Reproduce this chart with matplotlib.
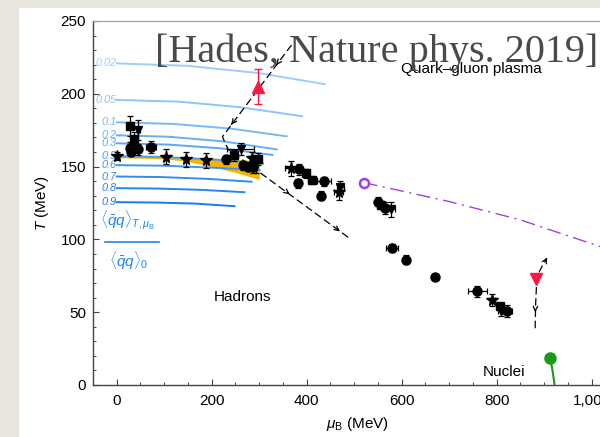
import matplotlib.pyplot as plt
from matplotlib.patches import Rectangle
from matplotlib.ticker import MultipleLocator, FuncFormatter

plt.rcParams['font.family'] = ['Liberation Sans', 'DejaVu Sans']
plt.rcParams['mathtext.fontset'] = 'custom'
plt.rcParams['mathtext.rm'] = 'Liberation Sans'
plt.rcParams['mathtext.it'] = 'Liberation Sans:italic'

# condensate ratio contours: label, mu_B samples, T samples
cond_labels = ['0.02', '0.05', '0.1', '0.2', '0.3', '0.5', '0.6', '0.7', '0.8', '0.9']
cond_mu = [[0, 150, 300, 438], [0, 130, 260, 390], [0, 120, 240, 358], [0, 110, 225, 337],
           [0, 110, 220, 328], [0, 100, 205, 308], [0, 100, 200, 301], [0, 95, 190, 284],
           [0, 90, 180, 269], [0, 85, 165, 248]]
cond_T = [[220.9, 219.2, 214.2, 206.6], [195.8, 194.6, 190.8, 184.6], [180.4, 179.3, 176.1, 170.8],
          [171.5, 170.5, 167.3, 161.8], [166, 165.1, 162.5, 158], [157.2, 156.6, 154.8, 152],
          [151, 150.6, 149.3, 147.6], [143.2, 142.8, 141.6, 139.6], [135.2, 134.9, 134, 132.4],
          [125.6, 125.3, 124.6, 122.8]]
cond_colors = ['#9fcdfa', '#8fc4f8', '#7ab8f6', '#6aaff5', '#5ca7f3', '#4a9df2',
               '#3d95f0', '#2f8cee', '#2384ec', '#1a7ce9']

# crossover band
band_mu = [0, 100, 150, 200, 250, 300]
band_hi = [157.7, 157.2, 156.7, 156.0, 155.0, 153.8]
band_lo = [156.1, 155.4, 153.5, 150.0, 146.0, 141.2]

# freeze-out points
pts_mu = [1.5, 27, 27, 36, 36, 45, 45, 31, 72, 103, 145, 187, 229, 246, 261, 266, 276, 285, 293, 297, 286,
          366, 384, 382, 399, 412, 436, 430, 471, 467, 550, 557, 564, 578,
          580, 610, 669.5, 759, 791, 806, 810, 822]
pts_T = [157.2, 178, 163, 168.7, 165, 175, 161.8, 160, 163.5, 156.8, 155, 154.3, 155, 157.7, 162.3, 150.8,
         150, 156, 151.5, 155, 149.4,
         148.8, 148.1, 138.5, 145.3, 140.8, 140, 130, 136.2, 132.3, 125.9, 123.6, 121.4, 120.7,
         94.1, 86.1, 74.2, 64.3, 58.5, 54.4, 50.5, 51]
pts_xerr = [3, 3, 4, 3, 3, 3, 3, 3, 10, 3, 3, 3, 5, 5, 29, 4, 4, 4, 4, 3, 4,
            12, 6, 3, 6, 10, 15, 3, 8, 10, 4, 6, 8, 8,
            13, 3, 6, 20, 5, 5, 8, 10]
pts_yerr = [3, 7, 4, 5, 4, 7, 4, 3, 4, 5, 5, 5, 3, 4, 4, 3, 3, 4, 6, 4, 4,
            5, 4, 3, 3, 3, 3, 3, 4, 5, 3, 3, 4, 5,
            3, 3, 2, 4, 4, 2, 3, 4]
pts_marker = ['*', 's', 'o', 's', 'o', 'v', 'o', 'o', 'o', '*', '*', '*', 'o', 's', 'v', 'o', 'o', '*', 'v', 's', 'o',
              '*', 'o', 'o', 's', 's', 'o', 'o', 'v', '*', 'o', 's', 'o', 'v',
              'o', 'o', 'o', 'o', '*', 's', 'v', 'o']

# trajectories and special points
traj_mu = [368, 222.5, 234, 490]
traj_T = [233.5, 170.5, 162, 100.8]
loop_mu = [881, 882, 884, 890, 898, 906]
loop_T = [39, 55, 70, 78, 83, 87]
cep_mu = [520, 700, 848, 1017, 1060]
cep_T = [139, 126, 113.6, 95.2, 90]

fig = plt.figure(figsize=(6, 4.37), dpi=100, facecolor='#e8e4de')
fig.patches.append(Rectangle((19 / 600, 0), 1, 1 - 8 / 437, transform=fig.transFigure,
                             facecolor='white', edgecolor='none', zorder=-10))
ax = fig.add_axes([93 / 600, 52 / 437, 530 / 600, 364 / 437])
ax.set_facecolor('white')
ax.set_xlim(-50, 1066)
ax.set_ylim(0, 250)

for lab, mu, T, c in zip(cond_labels, cond_mu, cond_T, cond_colors):
    ax.plot(mu, T, color=c, lw=1.4, zorder=2)
    ax.text(-1, T[0], lab, color=c, fontsize=7.8, style='italic', ha='right', va='center')

ax.fill_between(band_mu, band_lo, band_hi, color='#f6b400', lw=0, zorder=1)

ax.text(22, 105, r'$\langle\bar{q}q\rangle_{T,\mu_{\rm B}}$', color='#1f86ee', fontsize=11, ha='center', va='bottom')
ax.plot([-25, 90], [98.5, 98.5], color='#1f86ee', lw=1.2)
ax.text(24, 93, r'$\langle\bar{q}q\rangle_0$', color='#1f86ee', fontsize=11, ha='center', va='top')

sizes = {'o': 6.5, '*': 8.5, 's': 5.5, 'v': 6}
for m in ['o', '*', 's', 'v']:
    idx = [i for i, mk in enumerate(pts_marker) if mk == m]
    ax.errorbar([pts_mu[i] for i in idx], [pts_T[i] for i in idx],
                xerr=[pts_xerr[i] for i in idx], yerr=[pts_yerr[i] for i in idx],
                fmt=m, ms=sizes[m], color='black', ecolor='black', elinewidth=0.9,
                capsize=2, capthick=0.9, zorder=5)

ax.plot(traj_mu, traj_T, color='black', lw=0.9, ls=(0, (6, 3)), zorder=4)
ax.plot(loop_mu, loop_T, color='black', lw=0.9, ls=(0, (6, 3)), zorder=4)
for (x0, y0), (x1, y1) in [((340, 221.5), (336, 219.8)), ((245, 180.5), (241, 178.8)),
                           ((360, 132), (364, 131)), ((466, 106.5), (470, 105.5)),
                           ((881.5, 53), (881.3, 50)), ((902, 85), (906, 87.5))]:
    ax.annotate('', xy=(x1, y1), xytext=(x0, y0),
                arrowprops=dict(arrowstyle='->', color='black', lw=0.9, mutation_scale=8))

ax.errorbar([297.5], [205], yerr=[12], fmt='^', ms=8, color='#ff1744', ecolor='#ff1744',
            elinewidth=1, capsize=3, zorder=6)
ax.plot([883], [73], 'v', ms=9, color='#ff1744', zorder=6)
ax.plot(cep_mu, cep_T, color='#a040e0', lw=1, ls=(0, (10, 4, 1.5, 4)), zorder=3)
ax.plot([520], [139], 'o', ms=6.5, mfc='white', mec='#a040e0', mew=1.8, zorder=6)
ax.plot([913, 918, 922], [18.5, 9, 0], color='#1a9a1a', lw=1.5, zorder=5)
ax.plot([913], [18.5], 'o', ms=8, color='#1a9a1a', zorder=6)

ax.text(746, 217, 'Quark\u2013gluon plasma', fontsize=11, ha='center', va='center', zorder=8)
ax.text(265, 60.6, 'Hadrons', fontsize=11, ha='center', va='center')
ax.text(815, 9, 'Nuclei', fontsize=11, ha='center', va='center')

ax.set_xlabel(r'$\mu_{\rm B}$ (MeV)', fontsize=11, labelpad=5)
ax.set_ylabel(r'$T$ (MeV)', fontsize=11, labelpad=7)
ax.xaxis.set_major_locator(MultipleLocator(200))
ax.xaxis.set_minor_locator(MultipleLocator(50))
ax.yaxis.set_major_locator(MultipleLocator(50))
ax.yaxis.set_minor_locator(MultipleLocator(10))
ax.xaxis.set_major_formatter(FuncFormatter(lambda v, p: f'{int(v):,}'))
ax.tick_params(which='both', direction='in', top=False, right=False, labelsize=11, color='#444444')
ax.tick_params(which='major', length=4, width=0.8)
ax.tick_params(which='minor', length=2.5, width=0.7)
ax.tick_params(axis='x', pad=6.5)
ax.tick_params(axis='y', pad=5)
for s in ['left', 'bottom']:
    ax.spines[s].set_color('#444444')
    ax.spines[s].set_linewidth(1)
ax.spines['top'].set_color('#999999')
ax.spines['right'].set_visible(False)

fig.text(598 / 600, 1 - 62 / 437, '[Hades, Nature phys. 2019]', family='Liberation Serif',
         fontsize=29, color='#4a4a4a', ha='right', va='baseline', zorder=9)

fig.savefig('out.png', dpi=100, facecolor=fig.get_facecolor())
